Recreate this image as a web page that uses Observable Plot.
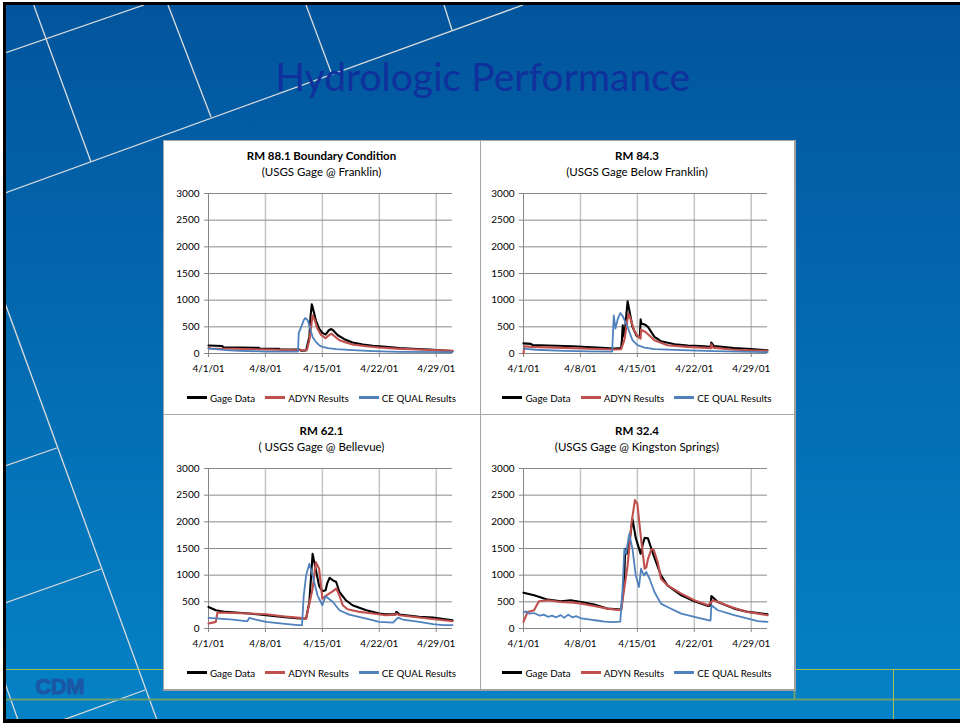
<!DOCTYPE html>
<html><head><meta charset="utf-8">
<script src="https://cdn.jsdelivr.net/npm/d3@7"></script>
<script src="https://cdn.jsdelivr.net/npm/@observablehq/plot@0.6"></script>
<style>
body{margin:0;background:#fff;}
#slide{position:relative;width:960px;height:723px;overflow:hidden;font-family:Lato,sans-serif;}
#frame{position:absolute;left:3px;top:2px;width:957px;height:721px;background:#000;}
#bg{position:absolute;left:6px;top:5px;width:954px;height:714px;background:linear-gradient(to bottom,#02559d 0%,#0582c6 100%);}
svg.deco{position:absolute;left:0;top:0;}
#panel{position:absolute;left:163px;top:140px;width:630px;height:548px;background:#fff;border:1px solid #a6a6a6;border-right:2px solid #a0a0a0;border-bottom:2px solid #a0a0a0;}
.div{position:absolute;background:#a6a6a6;}
.ttl{position:absolute;text-align:center;font-size:11.5px;line-height:14px;color:#000;white-space:nowrap;}
.ttl.b{font-weight:bold;}
.leg{position:absolute;display:flex;justify-content:center;align-items:center;font-size:9.8px;line-height:14px;height:14px;color:#000;white-space:nowrap;}
.leg .it{display:flex;align-items:center;margin:0 5px;}
.leg .sw{display:inline-block;width:20px;height:2.5px;margin-right:3px;}
.plotwrap{position:absolute;}
</style></head>
<body>
<div id="slide">
  <div id="frame"></div>
  <div id="bg"></div>
  <svg class="deco" width="960" height="723">
    <defs><clipPath id="cp"><rect x="6" y="5" width="954" height="714"/></clipPath></defs>
    <g clip-path="url(#cp)" stroke="#dcdcdc" stroke-width="1.3" fill="none">
      <path d="M5,53L144,5"/><path d="M5,193L523,5"/><path d="M33.7,5L91,162"/>
      <path d="M168,5L211,117"/><path d="M306,5L331,72"/><path d="M444,5L452,30"/>
      <path d="M5,303L157,720"/><path d="M5,466L56.7,448"/><path d="M5,603L101,569"/>
      <path d="M63,720L145,690"/><path d="M5,683L18,720"/>
    </g>
    <g clip-path="url(#cp)" fill="none">
      <path d="M5,669.5H960" stroke="#a4c050" stroke-width="1"/>
      <path d="M5,699.5H960" stroke="#6d9e70" stroke-width="2"/>
      <path d="M794.5,669V700" stroke="#6d9e70" stroke-width="2"/>
      <path d="M893.5,669V720" stroke="#a4c050" stroke-width="1"/>
    </g>
  </svg>
  <div id="panel"></div>
  <div class="div" style="left:480px;top:140px;width:1px;height:549px;"></div>
  <div class="div" style="left:163px;top:414px;width:631px;height:1px;"></div>
  <div id="charts"></div>
  <svg class="deco" width="960" height="723" style="pointer-events:none">
    <text x="482.7" y="90.7" text-anchor="middle" font-family="Lato, sans-serif" font-size="39" fill="#10309c" textLength="415" lengthAdjust="spacingAndGlyphs">Hydrologic Performance</text>
    <text x="35.5" y="693.5" font-family="Liberation Sans, Arial, sans-serif" font-weight="bold" font-size="22" fill="#1a58a6" stroke="#1a58a6" stroke-width="1.2" textLength="49" lengthAdjust="spacingAndGlyphs">CDM</text>
  </svg>
</div>
<script>
// ---- axis ticks & labels ----
const yTicks = [0, 500, 1000, 1500, 2000, 2500, 3000];
const xTickDays = [0, 7, 14, 21, 28];           // days after 4/1/01
const xTickLabels = ["4/1/01", "4/8/01", "4/15/01", "4/22/01", "4/29/01"];
const seriesNames = ["Gage Data", "ADYN Results", "CE QUAL Results"];
const seriesColors = ["#000000", "#c0504d", "#4f81bd"];
const chartTitles = ["RM 88.1 Boundary Condition", "RM 84.3", "RM 62.1", "RM 32.4"];
const chartSubtitles = ["(USGS Gage @ Franklin)", "(USGS Gage Below Franklin)", "( USGS Gage @ Bellevue)", "(USGS Gage @ Kingston Springs)"];

// ---- data: [day after 4/1/01, flow] ----
const gage881 = [[0,150],[1.7,140],[1.8,115],[6.2,105],[6.3,93],[8.7,88],[8.8,75],[11.2,72],[11.4,52],[12,55],[12.2,187],[12.4,311],[12.55,700],[12.7,921],[12.8,871],[13.2,622],[13.6,467],[14.0,386],[14.4,355],[14.8,436],[15.1,460],[15.4,423],[15.9,342],[16.7,268],[17.7,205],[19,168],[20.2,143],[21.8,124],[23.5,100],[25.1,87],[27.2,75],[28.4,62],[30,44]];
const adyn881 = [[0,105],[0.3,95],[3,90],[7,75],[11.2,62],[12.1,65],[12.4,249],[12.8,715],[13.0,653],[13.4,467],[13.8,355],[14.4,286],[14.8,342],[15.1,373],[15.5,324],[16.1,249],[16.9,205],[17.7,168],[19.4,137],[21,112],[23.5,87],[25.9,75],[30,50]];
const qual881 = [[0,93],[0.9,81],[2.1,62],[3.8,50],[7.1,37],[11.0,37],[11.1,386],[11.4,498],[11.7,622],[11.9,666],[12.2,622],[12.5,467],[12.8,311],[13.2,218],[13.6,155],[14.0,124],[14.7,100],[15.7,81],[17.7,62],[20.2,44],[23.5,31],[30,25]];

const gage843 = [[0,190],[0.9,180],[1.1,160],[3,150],[6,135],[9,112],[11.2,95],[12.0,100],[12.1,250],[12.2,529],[12.3,420],[12.4,311],[12.6,650],[12.8,977],[12.9,900],[13.4,498],[13.9,330],[14.3,300],[14.4,640],[14.5,560],[14.9,545],[15.3,500],[16.1,311],[16.9,230],[18.6,174],[20.2,150],[21.8,140],[23.0,125],[23.1,205],[23.4,140],[25.9,100],[28,85],[30,62]];
const adyn843 = [[0,0],[0.1,137],[1,125],[4,110],[8,90],[11.2,75],[12.0,80],[12.4,250],[12.6,450],[12.9,747],[13.1,680],[13.6,430],[14.0,330],[14.4,280],[14.45,448],[14.6,430],[15.0,404],[16.1,249],[17.7,155],[20.2,124],[22.5,106],[23.05,100],[23.1,174],[23.3,110],[25.9,70],[30,50]];
const qual843 = [[0,93],[1.5,70],[5,50],[8,40],[10.9,37],[11.1,715],[11.3,467],[11.6,650],[11.9,759],[12.2,700],[12.8,498],[13.4,249],[14.0,155],[14.9,112],[16.1,81],[19.4,62],[23.5,44],[30,25]];

const gage621 = [[0,404],[0.9,342],[2.1,311],[5,280],[7.1,249],[9.1,218],[11.2,187],[12.0,187],[12.4,498],[12.8,1400],[13.0,1245],[13.6,800],[14.0,700],[14.4,716],[14.6,850],[14.9,952],[15.3,902],[15.7,871],[16.1,684],[16.9,529],[17.7,436],[19.4,342],[21,280],[21.8,268],[23.0,265],[23.1,311],[23.5,261],[25.9,218],[27.6,205],[30,155]];
const adyn621 = [[0,93],[0.5,110],[0.9,124],[1.1,299],[3,290],[5,280],[7.1,268],[9.1,230],[11.2,199],[12.0,187],[12.8,747],[13.2,1245],[13.6,1120],[14.0,560],[14.5,622],[15.3,700],[15.7,747],[16.1,622],[16.5,436],[17.1,361],[18.6,311],[20.2,280],[21.8,249],[23.0,260],[23.1,280],[23.5,249],[25.9,205],[30,137]];
const qual621 = [[0,199],[3.0,168],[4.6,137],[4.8,140],[5.0,199],[5.8,168],[7.1,124],[9.1,93],[11.0,62],[11.5,62],[11.7,600],[12.0,996],[12.4,1213],[12.8,996],[13.4,622],[14.0,436],[14.4,604],[15.3,498],[16.1,342],[17.3,261],[19.4,187],[21,124],[22.7,112],[23.3,205],[23.9,168],[25.9,124],[27.6,81],[28.8,62],[30,62]];

const gage324 = [[0,672],[1.3,622],[3,541],[4.6,510],[5.8,529],[7.1,498],[8.7,448],[10.3,373],[12.0,355],[12.2,600],[12.4,996],[12.5,1493],[12.7,1400],[13.0,1600],[13.4,2050],[13.8,1700],[14.4,1400],[14.7,1600],[14.9,1700],[15.3,1690],[16.0,1369],[16.9,996],[17.7,809],[19.4,622],[21,510],[22.7,423],[23.0,430],[23.1,610],[23.9,498],[25.9,373],[27.6,311],[30,268]];
const adyn324 = [[0,124],[0.5,311],[1.3,342],[1.9,510],[3,529],[4.6,498],[6.2,485],[7.1,467],[8.7,423],[10.3,373],[12.0,342],[12.8,1182],[13.3,2000],[13.7,2408],[14.0,2334],[14.45,1680],[14.9,1120],[15.1,1150],[15.3,1300],[15.7,1480],[16.0,1481],[16.5,1245],[16.9,933],[17.7,809],[19.4,653],[21,529],[22.7,436],[23.3,529],[23.9,498],[25.9,386],[27.6,311],[30,249]];
const qual324 = [[0,300],[0.3,320],[0.7,280],[1.3,290],[2,240],[2.5,260],[3,220],[3.5,240],[4,210],[4.6,250],[5,200],[5.5,260],[6,210],[6.5,230],[7.1,190],[8,170],[9,150],[10,130],[11,120],[11.9,130],[12.2,800],[12.4,1493],[12.6,1400],[13.0,1773],[13.4,1493],[13.8,996],[14.2,778],[14.45,1120],[14.8,996],[15.1,1058],[15.5,933],[16.1,684],[16.9,467],[17.7,404],[19.4,280],[21,218],[22.7,155],[23.0,150],[23.1,436],[23.9,342],[25.9,249],[27.6,187],[28.8,137],[30,124]];

const chartSeries = [
  [gage881, adyn881, qual881],
  [gage843, adyn843, qual843],
  [gage621, adyn621, qual621],
  [gage324, adyn324, qual324]
];

// ---- layout ----
const cells = [{x:163,y:140,w:317},{x:480,y:140,w:314},{x:163,y:415,w:317},{x:480,y:415,w:314}];
const plotLeft = [207.7, 522.7, 207.7, 522.7];
const plotTop = [192.7, 192.7, 467.7, 467.7];
const container = document.getElementById("charts");

chartSeries.forEach((series, i) => {
  const c = cells[i];
  const t = document.createElement("div");
  t.className = "ttl b"; t.textContent = chartTitles[i];
  t.style.left = c.x + "px"; t.style.width = c.w + "px"; t.style.top = (c.y + 8.7) + "px";
  container.appendChild(t);
  const s = document.createElement("div");
  s.className = "ttl"; s.textContent = chartSubtitles[i];
  s.style.left = c.x + "px"; s.style.width = c.w + "px"; s.style.top = (c.y + 25.3) + "px";
  container.appendChild(s);

  const marks = [
    Plot.gridX(xTickDays.slice(1), {stroke: "#c4c4c4", strokeOpacity: 1, strokeWidth: 1.5}),
    Plot.gridY(yTicks.slice(1), {stroke: "#8a8a8a", strokeOpacity: 1}),
    Plot.ruleX([0], {stroke: "#868686"}),
    Plot.ruleY([0], {stroke: "#868686"}),
    Plot.axisY(yTicks, {tickSize: 4, tickPadding: 5, stroke: "#868686", fill: "#000", label: null, tickFormat: d => String(d)}),
    Plot.axisX(xTickDays, {tickSize: 4, tickPadding: 7, stroke: "#868686", fill: "#000", label: null, tickFormat: d => xTickLabels[xTickDays.indexOf(d)]})
  ];
  series.forEach((arr, k) => {
    marks.push(Plot.line(arr, {x: d => d[0], y: d => d[1], stroke: seriesColors[k], strokeWidth: k === 2 ? 1.8 : 2.1, strokeLinejoin: "round"}));
  });
  const svg = Plot.plot({
    width: 315, height: 200, marginLeft: 44, marginRight: 27, marginTop: 10, marginBottom: 30,
    style: {fontFamily: "Lato, sans-serif", fontSize: "10px", color: "#000", background: "transparent", overflow: "visible"},
    x: {domain: [0, 30]},
    y: {domain: [0, 3000]},
    marks
  });
  const w = document.createElement("div");
  w.className = "plotwrap";
  w.style.left = (plotLeft[i] - 44) + "px";
  w.style.top = (plotTop[i] - 10) + "px";
  w.appendChild(svg);
  container.appendChild(w);

  const leg = document.createElement("div");
  leg.className = "leg";
  leg.style.left = c.x + "px"; leg.style.width = c.w + "px"; leg.style.top = (c.y + 250.7) + "px";
  seriesNames.forEach((n, k) => {
    const it = document.createElement("span"); it.className = "it";
    const sw = document.createElement("span"); sw.className = "sw"; sw.style.background = seriesColors[k];
    const tx = document.createElement("span"); tx.textContent = n;
    it.appendChild(sw); it.appendChild(tx); leg.appendChild(it);
  });
  container.appendChild(leg);
});
</script>
</body></html>
